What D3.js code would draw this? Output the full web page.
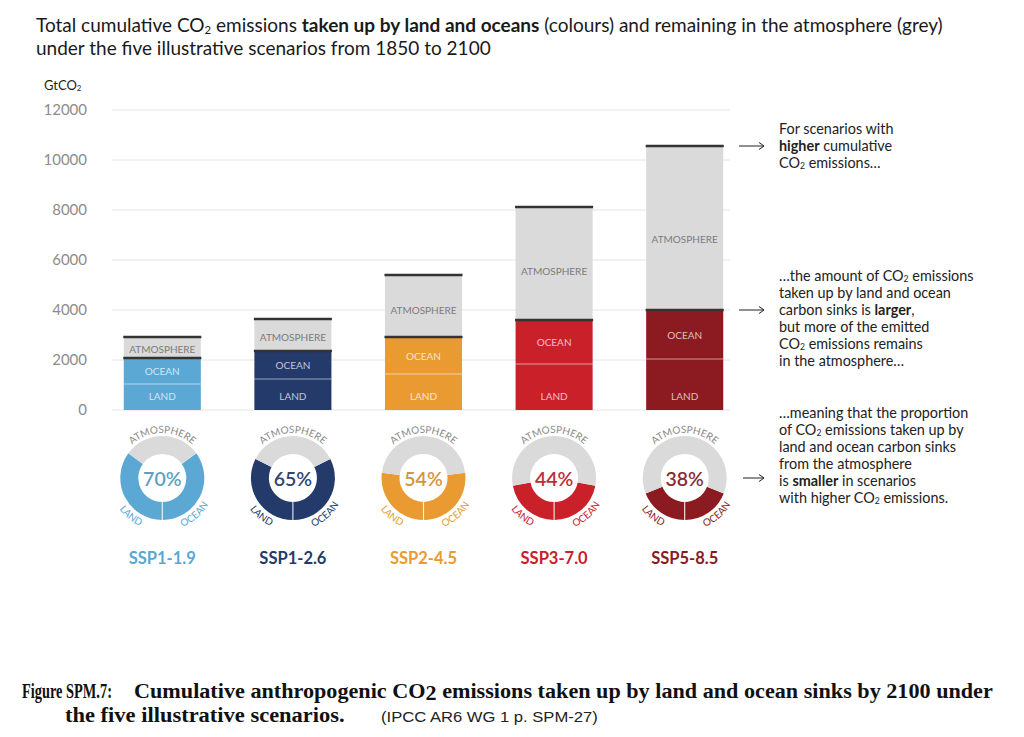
<!DOCTYPE html>
<html>
<head>
<meta charset="utf-8">
<script src="https://cdn.jsdelivr.net/npm/d3@7"></script>
<style>
  body { margin: 0; background: #fff; }
  svg { display: block; font-family: Lato, "Open Sans", sans-serif; }
</style>
</head>
<body>
<svg id="chart" width="1024" height="737"></svg>
<script>
// ---- data ----
var scenarios = ["SSP1-1.9", "SSP1-2.6", "SSP2-4.5", "SSP3-7.0", "SSP5-8.5"];
var land = [1040, 1240, 1440, 1840, 2040];          // GtCO2 taken up by land
var ocean = [1040, 1120, 1480, 1760, 1960];         // GtCO2 taken up by ocean
var atmosphere = [840, 1280, 2480, 4520, 6560];     // GtCO2 remaining in atmosphere
var sinkPercent = [70, 65, 54, 44, 38];             // % taken up by sinks (donuts)
var yTicks = [0, 2000, 4000, 6000, 8000, 10000, 12000];

var colors = ["#5aa8d3", "#243a6b", "#e99b31", "#c9202a", "#8b1b21"];
var atmColor = "#dadada";

var svg = d3.select("#chart");

// little helper: "**bold**" and "~2~" (subscript) markup inside a line
function richLine(text, str, size) {
  var parts = str.split(/(\*\*[^*]+\*\*|~[^~]+~)/).filter(function (p) { return p !== ""; });
  var shift = 0;
  parts.forEach(function (p) {
    var sp = text.append("tspan");
    if (p.indexOf("**") === 0) {
      sp.attr("font-weight", "bold").text(p.slice(2, -2));
    } else if (p[0] === "~") {
      sp.attr("font-size", size * 0.6).attr("dy", size * 0.1).text(p.slice(1, -1));
      shift = size * 0.1;
      return;
    } else {
      sp.text(p);
    }
    if (shift) { sp.attr("dy", -shift); shift = 0; }
  });
}

function richBlock(x, y, lines, lh, size, fill) {
  lines.forEach(function (l, i) {
    var t = svg.append("text").attr("x", x).attr("y", y + i * lh)
      .attr("font-size", size).attr("fill", fill);
    richLine(t, l, size);
  });
}

// ---- title ----
richBlock(36, 32, [
  "Total cumulative CO~2~ emissions **taken up by land and oceans** (colours) and remaining in the atmosphere (grey)",
  "under the five illustrative scenarios from 1850 to 2100"
], 23, 19, "#1a1a1a");

richBlock(44, 90, ["GtCO~2~"], 0, 13, "#222");

// ---- scales ----
var y = d3.scaleLinear().domain([0, 12000]).range([410, 110]);
var x = d3.scaleBand().domain(scenarios).range([97, 750])
  .paddingInner(0.41).paddingOuter(0.205);

// gridlines
svg.append("g").selectAll("line").data(yTicks).join("line")
  .attr("x1", 112).attr("x2", 730)
  .attr("y1", function (d) { return y(d); })
  .attr("y2", function (d) { return y(d); })
  .attr("stroke", "#e4e4e4").attr("stroke-width", 1);

// y axis labels
var yAxis = svg.append("g").attr("transform", "translate(112,0)")
  .call(d3.axisLeft(y).tickValues(yTicks).tickSize(0).tickPadding(25).tickFormat(d3.format("d")));
yAxis.select(".domain").remove();
yAxis.selectAll("text").attr("font-family", "Lato, sans-serif").attr("font-size", 15).attr("fill", "#8c8c8c");

// ---- stacked bars ----
var rows = scenarios.map(function (s, i) {
  return { scenario: s, i: i, land: land[i], ocean: ocean[i], atmosphere: atmosphere[i] };
});
var series = d3.stack().keys(["land", "ocean", "atmosphere"])(rows);

svg.append("g").selectAll("g").data(series).join("g")
  .selectAll("rect").data(function (d) { return d.map(function (v) { v.key = d.key; return v; }); })
  .join("rect")
  .attr("x", function (d) { return x(d.data.scenario); })
  .attr("width", x.bandwidth())
  .attr("y", function (d) { return y(d[1]); })
  .attr("height", function (d) { return y(d[0]) - y(d[1]); })
  .attr("fill", function (d) { return d.key === "atmosphere" ? atmColor : colors[d.data.i]; });

// separators: light between land/ocean, dark on top of sinks and top of total
var landTop = series[0], oceanTop = series[1], atmTop = series[2];
svg.append("g").selectAll("line").data(landTop).join("line")
  .attr("x1", function (d) { return x(d.data.scenario); })
  .attr("x2", function (d) { return x(d.data.scenario) + x.bandwidth(); })
  .attr("y1", function (d) { return y(d[1]); }).attr("y2", function (d) { return y(d[1]); })
  .attr("stroke", "#fff").attr("stroke-opacity", 0.55).attr("stroke-width", 1.2);

[oceanTop, atmTop].forEach(function (s) {
  svg.append("g").selectAll("line").data(s).join("line")
    .attr("x1", function (d) { return x(d.data.scenario) - 0.5; })
    .attr("x2", function (d) { return x(d.data.scenario) + x.bandwidth() + 0.5; })
    .attr("y1", function (d) { return y(d[1]); }).attr("y2", function (d) { return y(d[1]); })
    .attr("stroke", "#333").attr("stroke-width", 2.5);
});

// labels in bars
function tint(c) { return d3.interpolateRgb(c, "#fff")(0.72); }
var barLabels = svg.append("g").attr("font-size", 10).attr("text-anchor", "middle")
  .attr("dominant-baseline", "central");
rows.forEach(function (r) {
  var cx = x(r.scenario) + x.bandwidth() / 2;
  var s0 = r.land, s1 = r.land + r.ocean, s2 = s1 + r.atmosphere;
  barLabels.append("text").attr("x", cx).attr("y", y(0) - 14)
    .attr("fill", tint(colors[r.i])).text("LAND");
  barLabels.append("text").attr("x", cx).attr("y", (y(s0) + y(s1)) / 2)
    .attr("fill", tint(colors[r.i])).text("OCEAN");
  var atmH = y(s1) - y(s2);
  barLabels.append("text").attr("x", cx).attr("y", (y(s1) + y(s2)) / 2 + atmH * 0.07)
    .attr("fill", "#7b7b7b").text("ATMOSPHERE");
});

// ---- donuts ----
var cy = 478, rIn = 24, rOut = 42;
var arc = d3.arc().innerRadius(rIn).outerRadius(rOut);
var defs = svg.append("defs");
var donuts = svg.append("g");

rows.forEach(function (r) {
  var cx = x(r.scenario) + x.bandwidth() / 2;
  var f = sinkPercent[r.i] / 100;
  var g = donuts.append("g").attr("transform", "translate(" + cx + "," + cy + ")");
  var pieces = [
    { s: Math.PI - f * Math.PI, e: Math.PI, c: colors[r.i] },
    { s: Math.PI, e: Math.PI + f * Math.PI, c: colors[r.i] },
    { s: Math.PI + f * Math.PI, e: 3 * Math.PI - f * Math.PI, c: atmColor }
  ];
  g.selectAll("path").data(pieces).join("path")
    .attr("d", function (d) { return arc({ startAngle: d.s, endAngle: d.e }); })
    .attr("fill", function (d) { return d.c; });
  g.append("line").attr("x1", 0).attr("x2", 0).attr("y1", rIn).attr("y2", rOut)
    .attr("stroke", "#fff").attr("stroke-opacity", 0.8).attr("stroke-width", 1.2);

  g.append("text").attr("text-anchor", "middle").attr("dominant-baseline", "central")
    .attr("y", 0).attr("font-size", 19.5).attr("font-weight", 600)
    .attr("fill", d3.interpolateRgb(colors[r.i], "#777")(0.18))
    .text(sinkPercent[r.i] + "%");

  var rt = 45, rb = 53;
  defs.append("path").attr("id", "top" + r.i)
    .attr("d", "M" + (cx - rt) + "," + cy + " A" + rt + "," + rt + " 0 0 1 " + (cx + rt) + "," + cy);
  defs.append("path").attr("id", "bot" + r.i)
    .attr("d", "M" + (cx - rb) + "," + cy + " A" + rb + "," + rb + " 0 0 0 " + (cx + rb) + "," + cy);

  var lab = svg.append("g").attr("font-size", 10).attr("text-anchor", "middle");
  lab.append("text").attr("fill", "#8a8a8a")
    .append("textPath").attr("href", "#top" + r.i).attr("startOffset", "50%").text("ATMOSPHERE");
  lab.append("text").attr("fill", colors[r.i])
    .append("textPath").attr("href", "#bot" + r.i).attr("startOffset", "28%").text("LAND");
  lab.append("text").attr("fill", colors[r.i])
    .append("textPath").attr("href", "#bot" + r.i).attr("startOffset", "73%").text("OCEAN");

  svg.append("text").attr("x", cx).attr("y", 564).attr("text-anchor", "middle")
    .attr("font-size", 16.5).attr("font-weight", "bold").attr("fill", colors[r.i])
    .text(r.scenario);
});

// ---- annotations on the right ----
var last = rows[rows.length - 1];
var arrowYs = [y(last.land + last.ocean + last.atmosphere), y(last.land + last.ocean), cy];
var arrows = svg.append("g").attr("stroke", "#222").attr("stroke-width", 1).attr("fill", "none");
arrowYs.forEach(function (ay, k) {
  var x1 = k === 2 ? 743 : 739, x2 = 764;
  arrows.append("line").attr("x1", x1).attr("x2", x2).attr("y1", ay).attr("y2", ay);
  arrows.append("path").attr("d", "M" + (x2 - 5) + "," + (ay - 3.5) + " L" + x2 + "," + ay + " L" + (x2 - 5) + "," + (ay + 3.5));
});

richBlock(779, 134, [
  "For scenarios with",
  "**higher** cumulative",
  "CO~2~ emissions…"
], 17, 14.4, "#222");

richBlock(779, 281, [
  "…the amount of CO~2~ emissions",
  "taken up by land and ocean",
  "carbon sinks is **larger**,",
  "but more of the emitted",
  "CO~2~ emissions remains",
  "in the atmosphere…"
], 16.9, 14.4, "#222");

richBlock(779, 418, [
  "…meaning that the proportion",
  "of CO~2~ emissions taken up by",
  "land and ocean carbon sinks",
  "from the atmosphere",
  "is **smaller** in scenarios",
  "with higher CO~2~ emissions."
], 16.9, 14.4, "#222");

// ---- caption (condensed like the scanned original) ----
function squeeze(t, x0, y0, width) {
  var w = t.node().getComputedTextLength();
  t.attr("transform", "translate(" + x0 + "," + y0 + ") scale(" + (width / w) + ",1)");
}
var cap = svg.append("g").attr("font-family", "'Liberation Serif', 'Times New Roman', serif")
  .attr("font-weight", "bold").attr("font-size", 20).attr("fill", "#111");
squeeze(cap.append("text").text("Figure SPM.7:"), 22, 698, 90);
var c1 = cap.append("text");
c1.append("tspan").text("Cumulative anthropogenic CO");
c1.append("tspan").attr("dy", 2).text("2");
c1.append("tspan").attr("dy", -2).text(" emissions taken up by land and ocean sinks by 2100 under");
squeeze(c1, 134, 698, 859);
squeeze(cap.append("text").text("the five illustrative scenarios."), 65, 722, 280);
squeeze(svg.append("text").attr("font-family", "'Liberation Sans', Arial, sans-serif")
  .attr("font-size", 15).attr("fill", "#222").text("(IPCC AR6 WG 1 p. SPM-27)"), 381, 722, 217);
</script>
</body>
</html>
